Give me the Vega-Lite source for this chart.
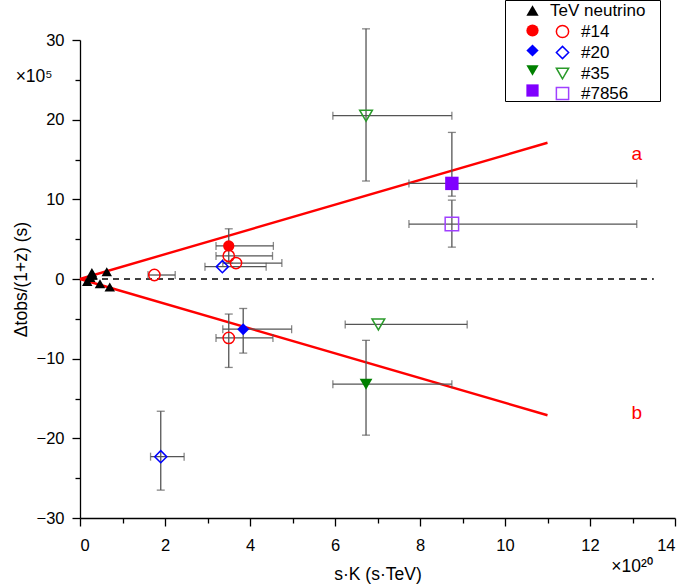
{
  "$schema": "https://vega.github.io/schema/vega-lite/v6.json",
  "width": 595,
  "height": 478,
  "autosize": {"type": "none"},
  "padding": {"left": 80, "top": 40, "right": 10, "bottom": 66},
  "background": "white",
  "config": {
    "font": "Liberation Sans",
    "view": {"stroke": null},
    "axis": {
      "domainColor": "black", "tickColor": "black", "labelColor": "black", "titleColor": "black",
      "grid": false, "labelFontSize": 16.5, "titleFontSize": 17.5, "titleFontWeight": "normal",
      "domainWidth": 1.3, "tickWidth": 1.3
    },
    "legend": {"labelFontSize": 17, "labelColor": "black", "labelFont": "Liberation Sans"}
  },
  "datasets": {
    "pts": [
      {"series": "TeV neutrino", "kind": "filled", "x": 0.17, "y": -0.3},
      {"series": "TeV neutrino", "kind": "filled", "x": 0.24, "y": 0.2},
      {"series": "TeV neutrino", "kind": "filled", "x": 0.28, "y": 0.8},
      {"series": "TeV neutrino", "kind": "filled", "x": 0.3, "y": 0.5},
      {"series": "TeV neutrino", "kind": "filled", "x": 0.47, "y": -0.6},
      {"series": "TeV neutrino", "kind": "filled", "x": 0.63, "y": 0.9},
      {"series": "TeV neutrino", "kind": "filled", "x": 0.7, "y": -1.0},
      {"series": "#14", "kind": "filled", "x": 3.5, "y": 4.15, "xlo": 3.2, "xhi": 4.55, "ylo": 2.0, "yhi": 6.3},
      {"series": "#14", "kind": "open", "x": 1.75, "y": 0.5, "xlo": 1.6, "xhi": 2.24},
      {"series": "#14", "kind": "open", "x": 3.5, "y": 2.9, "xlo": 3.2, "xhi": 4.53},
      {"series": "#14", "kind": "open", "x": 3.67, "y": 2.0, "xlo": 3.36, "xhi": 4.75},
      {"series": "#14", "kind": "open", "x": 3.5, "y": -7.4, "xlo": 3.2, "xhi": 4.54, "ylo": -11.1, "yhi": -4.4},
      {"series": "#20", "kind": "filled", "x": 3.84, "y": -6.3, "xlo": 3.36, "xhi": 4.98, "ylo": -9.3, "yhi": -3.7},
      {"series": "#20", "kind": "open", "x": 3.35, "y": 1.55, "xlo": 2.94, "xhi": 4.38},
      {"series": "#20", "kind": "open", "x": 1.9, "y": -22.3, "xlo": 1.66, "xhi": 2.45, "ylo": -26.5, "yhi": -16.6},
      {"series": "#35", "kind": "filled", "x": 6.73, "y": -13.2, "xlo": 5.95, "xhi": 8.75, "ylo": -19.6, "yhi": -7.7},
      {"series": "#35", "kind": "open", "x": 6.73, "y": 20.5, "xlo": 5.95, "xhi": 8.75, "ylo": 12.3, "yhi": 31.4},
      {"series": "#35", "kind": "open", "x": 7.02, "y": -5.7, "xlo": 6.24, "xhi": 9.11},
      {"series": "#7856", "kind": "filled", "x": 8.75, "y": 12.0, "xlo": 7.74, "xhi": 13.1, "ylo": 10.4, "yhi": 18.4},
      {"series": "#7856", "kind": "open", "x": 8.75, "y": 6.9, "xlo": 7.74, "xhi": 13.1, "ylo": 4.0, "yhi": 9.9}
    ],
    "lines": [
      {"g": "a", "lx": 0, "ly": 0},
      {"g": "a", "lx": 11, "ly": 17.1},
      {"g": "b", "lx": 0, "ly": 0},
      {"g": "b", "lx": 11, "ly": -17.1}
    ],
    "labels": [
      {"t": "a", "lx": 13.1, "ly": 15.7},
      {"t": "b", "lx": 13.1, "ly": -16.8}
    ],
    "mult": [
      {"t": "×10⁵", "lx": -1.08, "ly": 25.4},
      {"t": "×10²⁰", "lx": 12.99, "ly": -36.1}
    ],
    "zero": [{"x0": 0, "x1": 13.5, "y0": 0}]
  },
  "layer": [
    {
      "data": {"name": "zero"},
      "mark": {"type": "rule", "strokeDash": [6, 5], "color": "black", "strokeWidth": 1.2},
      "encoding": {
        "x": {"field": "x0", "type": "quantitative", "scale": {"domain": [0, 14], "nice": false},
          "axis": {"title": "s·K (s·TeV)", "values": [0,2,4,6,8,10,12,14],
            "tickSize": 8, "labelPadding": 11, "titlePadding": 12}},
        "x2": {"field": "x1"},
        "y": {"field": "y0", "type": "quantitative", "scale": {"domain": [-30, 30], "nice": false},
          "axis": {"title": "Δtobs/(1+z) (s)", "values": [-30,-25,-20,-15,-10,-5,0,5,10,15,20,25,30],
            "labelExpr": "datum.value % 10 === 0 ? datum.label : ''",
            "tickSize": {"condition": {"test": "datum.value % 10 === 0", "value": 8}, "value": 5},
            "labelPadding": 8, "titlePadding": 6}}
      }
    },
    {
      "data": {"name": "zero"},
      "mark": {"type": "rule", "strokeDash": [6, 5], "color": "black", "strokeWidth": 1.2},
      "encoding": {
        "x": {"field": "x0", "type": "quantitative",
          "axis": {"orient": "bottom", "title": null, "values": [1,3,5,7,9,11,13], "labels": false, "domain": false, "ticks": true, "tickSize": 5, "tickColor": "black", "tickWidth": 1.3}},
        "x2": {"field": "x1"},
        "y": {"field": "y0", "type": "quantitative", "axis": null}
      }
    },
    {
      "data": {"name": "lines"},
      "mark": {"type": "line", "color": "#ff0000", "strokeWidth": 2.4},
      "encoding": {
        "x": {"field": "lx", "type": "quantitative", "axis": null},
        "y": {"field": "ly", "type": "quantitative", "axis": null},
        "detail": {"field": "g"}
      }
    },
    {
      "data": {"name": "pts"},
      "transform": [{"filter": "isValid(datum.xlo)"}],
      "mark": {"type": "errorbar", "ticks": {"size": 8, "color": "#555555", "thickness": 1.3}, "rule": {"color": "#555555", "strokeWidth": 1.3}},
      "encoding": {
        "x": {"field": "xlo", "type": "quantitative", "axis": null},
        "x2": {"field": "xhi"},
        "y": {"field": "y", "type": "quantitative", "axis": null}
      }
    },
    {
      "data": {"name": "pts"},
      "transform": [{"filter": "isValid(datum.ylo)"}],
      "mark": {"type": "errorbar", "ticks": {"size": 8, "color": "#555555", "thickness": 1.3}, "rule": {"color": "#555555", "strokeWidth": 1.3}},
      "encoding": {
        "y": {"field": "ylo", "type": "quantitative", "axis": null},
        "y2": {"field": "yhi"},
        "x": {"field": "x", "type": "quantitative", "axis": null}
      }
    },
    {
      "data": {"name": "pts"},
      "transform": [{"filter": "datum.kind === 'filled'"}],
      "mark": {"type": "point", "filled": true, "opacity": 1},
      "encoding": {
        "x": {"field": "x", "type": "quantitative", "axis": null},
        "y": {"field": "y", "type": "quantitative", "axis": null},
        "size": {"field": "series", "type": "nominal", "legend": null,
          "scale": {"domain": ["TeV neutrino", "#14", "#20", "#35", "#7856"], "range": [110, 180, 240, 170, 130]}},
        "shape": {"field": "series", "type": "nominal",
          "scale": {"domain": ["TeV neutrino", "#14", "#20", "#35", "#7856"], "range": ["triangle-up", "circle", "diamond", "triangle-down", "square"]},
          "legend": {"orient": "none", "legendX": 425, "legendY": -40, "title": null, "strokeColor": "black", "padding": 2,
            "symbolOffset": 17, "symbolSize": 150, "labelOffset": 9, "rowPadding": 2,
            "labelExpr": "datum.value === 'TeV neutrino' ? 'TeV neutrino\u2800' : ''"}},
        "color": {"field": "series", "type": "nominal",
          "scale": {"domain": ["TeV neutrino", "#14", "#20", "#35", "#7856"], "range": ["black", "#ff0000", "#0000ff", "#008000", "#8000ff"]},
          "legend": {"orient": "none", "legendX": 425, "legendY": -40, "title": null, "strokeColor": "black", "padding": 2,
            "symbolOffset": 17, "symbolSize": 150, "labelOffset": 9, "rowPadding": 2,
            "labelExpr": "datum.value === 'TeV neutrino' ? 'TeV neutrino\u2800' : ''"}}
      }
    },
    {
      "data": {"name": "pts"},
      "transform": [{"filter": "datum.kind === 'open'"}],
      "mark": {"type": "point", "filled": false, "opacity": 1, "strokeWidth": 1.5},
      "encoding": {
        "x": {"field": "x", "type": "quantitative", "axis": null},
        "y": {"field": "y", "type": "quantitative", "axis": null},
        "size": {"field": "series", "type": "nominal", "legend": null,
          "scale": {"domain": ["TeV neutrino", "#14", "#20", "#35", "#7856"], "range": [110, 180, 240, 170, 130]}},
        "shape": {"field": "series", "type": "nominal",
          "scale": {"domain": ["#14", "#20", "#35", "#7856"], "range": ["circle", "diamond", "triangle-down", "square"]},
          "legend": {"orient": "none", "legendX": 472, "legendY": -19, "title": null, "padding": 2,
            "symbolSize": 150, "symbolStrokeWidth": 1.5, "labelOffset": 10, "rowPadding": 2}},
        "color": {"field": "series", "type": "nominal",
          "scale": {"domain": ["#14", "#20", "#35", "#7856"], "range": ["#ff0000", "#0000ff", "#2a9a2a", "#a040ff"]},
          "legend": {"orient": "none", "legendX": 472, "legendY": -19, "title": null, "padding": 2,
            "symbolSize": 150, "symbolStrokeWidth": 1.5, "labelOffset": 10, "rowPadding": 2}}
      }
    },
    {
      "data": {"name": "labels"},
      "mark": {"type": "text", "color": "#ff0000", "fontSize": 19},
      "encoding": {
        "x": {"field": "lx", "type": "quantitative", "axis": null},
        "y": {"field": "ly", "type": "quantitative", "axis": null},
        "text": {"field": "t"}
      }
    },
    {
      "data": {"name": "mult"},
      "mark": {"type": "text", "fontSize": 17.5, "color": "black", "clip": false},
      "encoding": {
        "x": {"field": "lx", "type": "quantitative", "axis": null},
        "y": {"field": "ly", "type": "quantitative", "axis": null},
        "text": {"field": "t"}
      }
    }
  ],
  "resolve": {
    "scale": {"shape": "independent", "color": "independent"},
    "axis": {"x": "independent", "y": "independent"}
  }
}
